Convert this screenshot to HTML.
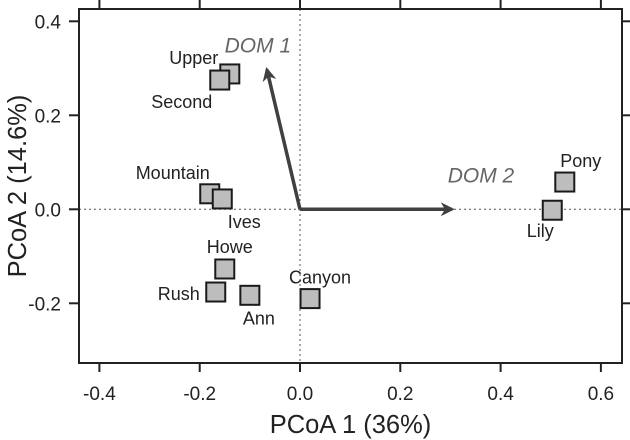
<!DOCTYPE html>
<html><head><meta charset="utf-8"><style>
html,body{margin:0;padding:0;background:#fff;}
svg{display:block;font-family:"Liberation Sans",Arial,sans-serif;}
</style></head><body>
<svg id="chart" width="630" height="440" viewBox="0 0 630 440" xmlns="http://www.w3.org/2000/svg">
<defs><marker id="ah" viewBox="0 0 10 10" refX="8" refY="5" markerWidth="4" markerHeight="4" orient="auto"><path d="M0,0 L10,5 L0,10 L3,5 z" fill="#404040"/></marker></defs>
<g id="plot"></g>
</svg>
<script>
const xTicks=[-0.4,-0.2,0.0,0.2,0.4,0.6];
const xTickLabels=["-0.4","-0.2","0.0","0.2","0.4","0.6"];
const yTicks=[-0.2,0.0,0.2,0.4];
const yTickLabels=["-0.2","0.0","0.2","0.4"];
const sites=["Upper","Second","Mountain","Ives","Howe","Rush","Ann","Canyon","Lily","Pony"];
const siteX=[-0.14,-0.16,-0.18,-0.155,-0.15,-0.168,-0.10,0.02,0.503,0.528];
const siteY=[0.288,0.275,0.033,0.022,-0.127,-0.176,-0.183,-0.19,-0.002,0.058];
const labelDx=[-36,-38,-37,22,5,-37,9,10,-12,16];
const labelDy=[-10,28,-15,29,-16,8,29,-15,27,-15];
const vectors=["DOM 1","DOM 2"];
const vecX=[-0.066,0.303];
const vecY=[0.297,0.0];
const L=79,R=622,T=9,B=363;
const sx=v=>300+v*501.5;
const sy=v=>209.3-v*470;
const g=document.getElementById('plot');
const NS="http://www.w3.org/2000/svg";
function mk(t,a,txt){const e=document.createElementNS(NS,t);for(const k in a)e.setAttribute(k,a[k]);if(txt!==undefined)e.textContent=txt;g.appendChild(e);return e;}
let e;
e=mk('line',{x1:sx(0),y1:T,x2:sx(0),y2:B,stroke:'#555','stroke-width':1,'stroke-dasharray':'2,3'});


e=mk('line',{x1:L,y1:sy(0),x2:R,y2:sy(0),stroke:'#555','stroke-width':1,'stroke-dasharray':'2,3'});


e=mk('rect',{x:L,y:T,width:R-L,height:B-T,fill:'none',stroke:'#222','stroke-width':2});


xTicks.forEach((v,i)=>{
 e=mk('line',{x1:sx(v),y1:B,x2:sx(v),y2:B+9,stroke:'#222','stroke-width':2});
 
 
 e=mk('line',{x1:sx(v),y1:T,x2:sx(v),y2:T-9,stroke:'#222','stroke-width':2});
 
 
 e=mk('text',{x:sx(v),y:B+37,'text-anchor':'middle','font-size':19,fill:'#222'},xTickLabels[i]);
 
 
});
yTicks.forEach((v,i)=>{
 e=mk('line',{x1:L,y1:sy(v),x2:L-10,y2:sy(v),stroke:'#222','stroke-width':2});
 
 
 e=mk('line',{x1:R,y1:sy(v),x2:R+9,y2:sy(v),stroke:'#222','stroke-width':2});
 
 
 e=mk('text',{x:L-18,y:sy(v)+7,'text-anchor':'end','font-size':19,fill:'#222'},yTickLabels[i]);
 
 
});
e=mk('text',{x:(L+R)/2,y:433,'text-anchor':'middle','font-size':25.5,fill:'#222'},'PCoA 1 (36%)');


e=mk('text',{x:0,y:0,'text-anchor':'middle','font-size':25.5,fill:'#222',transform:'translate(26,'+((T+B)/2)+') rotate(-90)'},'PCoA 2 (14.6%)');


vectors.forEach((n,i)=>{
 e=mk('line',{x1:sx(0),y1:sy(0),x2:sx(vecX[i]),y2:sy(vecY[i]),stroke:'#404040','stroke-width':3.5,'marker-end':'url(#ah)'});
 
 
});
e=mk('text',{x:sx(vecX[0])-9,y:sy(vecY[0])-17,'text-anchor':'middle','font-size':21,'font-style':'italic',fill:'#666'},vectors[0]);


e=mk('text',{x:sx(vecX[1])+29,y:sy(vecY[1])-27,'text-anchor':'middle','font-size':21,'font-style':'italic',fill:'#666'},vectors[1]);


sites.forEach((n,i)=>{
 const cx=sx(siteX[i]),cy=sy(siteY[i]);
 e=mk('rect',{x:cx-9.5,y:cy-9.5,width:19,height:19,fill:'#bdbdbd',stroke:'#1a1a1a','stroke-width':2});
 
 
});
sites.forEach((n,i)=>{
 const cx=sx(siteX[i]),cy=sy(siteY[i]);
 e=mk('text',{x:cx+labelDx[i],y:cy+labelDy[i],'text-anchor':'middle','font-size':18,fill:'#222'},n);
 
 
});
</script>
</body></html>
